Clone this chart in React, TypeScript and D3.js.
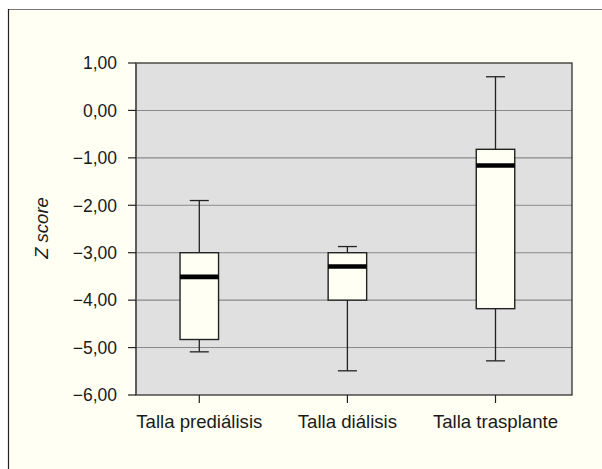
import React from "react";
import * as d3 from "d3";

const categories = ["Talla prediálisis", "Talla diálisis", "Talla trasplante"];
const whiskerHigh = [-1.9, -2.87, 0.71];
const q3 = [-3.0, -3.0, -0.82];
const median = [-3.51, -3.29, -1.16];
const q1 = [-4.83, -4.0, -4.18];
const whiskerLow = [-5.09, -5.49, -5.28];
const yTicks = [1, 0, -1, -2, -3, -4, -5, -6];

const W = 602;
const H = 469;
const plot = { left: 136, right: 572, top: 63, bottom: 395 };

const fmt = (v: number) => {
  const s = Math.abs(v).toFixed(2).replace(".", ",");
  return v < 0 ? "\u2212" + s : s;
};

export default function App() {
  const y = d3.scaleLinear().domain([-6, 1]).range([plot.bottom, plot.top]);
  const x = d3.scalePoint<string>().domain(categories).range([199.3, 495.5]);
  const boxW = 38.5;
  const capW = 19;
  const font = "'Liberation Sans', Arial, Helvetica, sans-serif";

  return (
    <svg
      width={W}
      height={H}
      style={{ position: "absolute", left: 0, top: 0 }}
      fontFamily={font}
    >
      <rect x={0} y={0} width={W} height={H} fill="#ffffff" />
      <rect x={8.5} y={9.5} width={W} height={H} fill="#fffff3" stroke="#777" strokeWidth={1} />
      <line x1={8.5} y1={9} x2={8.5} y2={H} stroke="#222" strokeWidth={1.2} />
      <rect
        x={plot.left}
        y={plot.top}
        width={plot.right - plot.left}
        height={plot.bottom - plot.top}
        fill="#e0e0e0"
      />
      {yTicks
        .filter((t) => t !== 1 && t !== -6)
        .map((t) => (
          <line
            key={"g" + t}
            x1={plot.left}
            x2={plot.right}
            y1={y(t)}
            y2={y(t)}
            stroke="#8a8a8a"
            strokeWidth={1.1}
          />
        ))}
      <rect
        x={plot.left}
        y={plot.top}
        width={plot.right - plot.left}
        height={plot.bottom - plot.top}
        fill="none"
        stroke="#222"
        strokeWidth={1.2}
      />
      <line x1={plot.left} x2={plot.left} y1={plot.top} y2={plot.bottom} stroke="#555" strokeWidth={1.4} />
      {yTicks.map((t) => (
        <g key={"t" + t}>
          <line x1={plot.left - 8} x2={plot.left} y1={y(t)} y2={y(t)} stroke="#222" strokeWidth={1.2} />
          <text
            x={117}
            y={y(t)}
            dy="0.36em"
            textAnchor="end"
            fontSize={17.5}
            fill="#1a1a1a"
          >
            {fmt(t)}
          </text>
        </g>
      ))}
      <text
        transform={`translate(48,228) rotate(-90)`}
        textAnchor="middle"
        fontSize={18.5}
        fontStyle="italic"
        fill="#1a1a1a"
      >
        Z score
      </text>
      {categories.map((c, i) => {
        const cx = x(c) as number;
        return (
          <g key={c}>
            <line x1={cx} x2={cx} y1={plot.bottom} y2={plot.bottom + 8} stroke="#222" strokeWidth={1.2} />
            <text x={cx} y={plot.bottom + 32.5} textAnchor="middle" fontSize={18.6} fill="#1a1a1a">
              {c}
            </text>
            <line x1={cx} x2={cx} y1={y(whiskerHigh[i])} y2={y(q3[i])} stroke="#222" strokeWidth={1.3} />
            <line x1={cx} x2={cx} y1={y(q1[i])} y2={y(whiskerLow[i])} stroke="#222" strokeWidth={1.3} />
            <line
              x1={cx - capW / 2}
              x2={cx + capW / 2}
              y1={y(whiskerHigh[i])}
              y2={y(whiskerHigh[i])}
              stroke="#222"
              strokeWidth={1.3}
            />
            <line
              x1={cx - capW / 2}
              x2={cx + capW / 2}
              y1={y(whiskerLow[i])}
              y2={y(whiskerLow[i])}
              stroke="#222"
              strokeWidth={1.3}
            />
            <rect
              x={cx - boxW / 2}
              y={y(q3[i])}
              width={boxW}
              height={y(q1[i]) - y(q3[i])}
              fill="#fffff3"
              stroke="#222"
              strokeWidth={1.4}
            />
            <line
              x1={cx - boxW / 2}
              x2={cx + boxW / 2}
              y1={y(median[i])}
              y2={y(median[i])}
              stroke="#000"
              strokeWidth={4.6}
            />
          </g>
        );
      })}
    </svg>
  );
}
